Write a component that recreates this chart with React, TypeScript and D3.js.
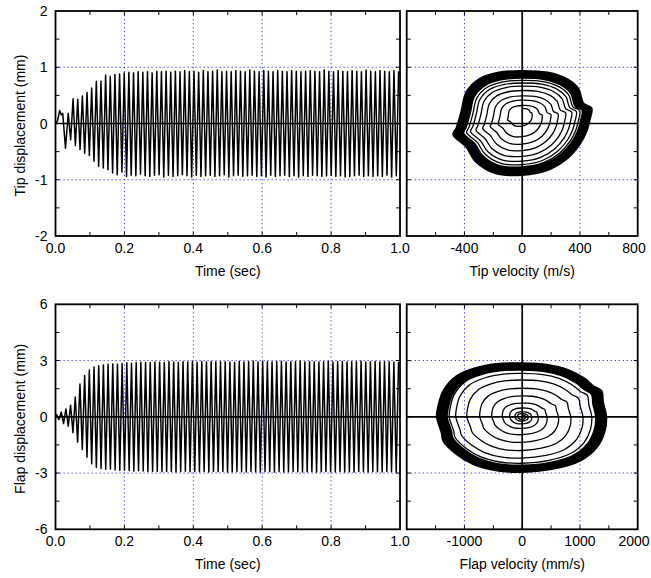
import React from 'react';
import * as d3 from 'd3';

// ---------- data ----------
// Tip displacement time history: irregular start, then alternating half-cycle peaks
const tipStartT = [0, 0.006, 0.012, 0.017, 0.021, 0.029, 0.037, 0.044];
const tipStartV = [0, 0.05, 0.23, 0.15, 0.18, -0.44, 0.18, -0.29];
const tipPeakStart = 0.051;
const tipHalfPeriod = 0.00675;
const tipPeaks = [
  0.44, -0.39, 0.43, -0.46, 0.49, -0.53, 0.55, -0.57, 0.63, -0.67,
  0.75, -0.76, 0.75, -0.79, 0.86, -0.82, 0.84, -0.88, 0.87, -0.91,
  0.88, -0.86, 0.90, -0.94, 0.91, -0.92, 0.90, -0.93, 0.92, -0.90,
  0.91, -0.93, 0.92, -0.94, 0.90, -0.92, 0.93, -0.91, 0.92, -0.95,
  0.93, -0.92, 0.91, -0.94, 0.93, -0.93, 0.92, -0.91, 0.94, -0.93,
  0.92, -0.95, 0.93, -0.92, 0.91, -0.94, 0.94, -0.93, 0.92, -0.92,
  0.93, -0.94, 0.95, -0.93, 0.92, -0.91, 0.93, -0.95, 0.92, -0.93,
  0.94, -0.92, 0.93, -0.94, 0.92, -0.93, 0.95, -0.92, 0.93, -0.94,
  0.92, -0.93, 0.94, -0.95, 0.93, -0.92, 0.92, -0.94, 0.94, -0.93,
  0.93, -0.92, 0.92, -0.94, 0.94, -0.93, 0.93, -0.95, 0.92, -0.93,
  0.93, -0.94, 0.94, -0.92, 0.93, -0.93, 0.92, -0.94, 0.95, -0.93,
  0.93, -0.92, 0.92, -0.94, 0.94, -0.93, 0.93, -0.95, 0.92, -0.94,
  0.94, -0.93, 0.93, -0.92, 0.92, -0.94, 0.95, -0.93, 0.93, -0.94,
  0.92, -0.93, 0.94, -0.94, 0.93, -0.92, 0.92, -0.95, 0.94, -0.93,
  0.93,
];

// Flap displacement time history
const flapStartT = [0];
const flapStartV = [0];
const flapPeakStart = 0.003;
const flapHalfPeriod = 0.0068;
const flapPeaks = [
  0.12, -0.15, 0.25, -0.36, 0.42, -0.50, 0.62, -0.85, 1.05, -1.35,
  1.75, -1.75, 2.20, -2.15, 2.50, -2.50, 2.65, -2.70, 2.72, -2.76,
  2.76, -2.80, 2.80, -2.78, 2.82, -2.84, 2.80, -2.86, 2.84, -2.85,
  2.88, -2.87, 2.86, -2.90, 2.89, -2.88, 2.91, -2.89, 2.90, -2.92,
  2.89, -2.91, 2.92, -2.90, 2.91, -2.93, 2.90, -2.92, 2.93, -2.91,
  2.92, -2.94, 2.91, -2.92, 2.93, -2.90, 2.92, -2.93, 2.94, -2.92,
  2.91, -2.93, 2.95, -2.92, 2.92, -2.94, 2.93, -2.91, 2.92, -2.93,
  2.94, -2.92, 2.93, -2.95, 2.92, -2.93, 2.91, -2.92, 2.95, -2.93,
  2.92, -2.94, 2.93, -2.92, 2.96, -2.93, 2.92, -2.94, 2.93, -2.92,
  2.94, -2.93, 2.92, -2.95, 2.93, -2.92, 2.95, -2.94, 2.92, -2.93,
  2.93, -2.92, 2.94, -2.93, 2.97, -2.94, 2.92, -2.93, 2.94, -2.92,
  2.93, -2.95, 2.92, -2.93, 2.94, -2.92, 2.96, -2.93, 2.92, -2.94,
  2.93, -2.92, 2.95, -2.94, 2.92, -2.93, 2.94, -2.95, 2.93, -2.92,
  2.96, -2.93, 2.92, -2.94, 2.93, -2.92, 2.95, -2.93, 2.92, -2.94,
  2.93, -2.92, 2.94, -2.93, 2.92, -2.95, 2.93,
];

// Phase portrait (tip): outer limit-cycle outline (velocity m/s, displacement mm)
const tipLoopV = [0, 180, 319, 400, 434, 492, 480, 457, 411, 319, 180, 0, -189, -328, -397, -490, -467, -432, -397, -305, -166];
const tipLoopY = [0.96, 0.93, 0.81, 0.63, 0.37, 0.28, 0.07, -0.14, -0.37, -0.64, -0.85, -0.94, -0.91, -0.70, -0.43, -0.20, -0.08, 0.22, 0.57, 0.81, 0.93];
const tipLoopScale = [0.10, 0.25, 0.38, 0.48, 0.59, 0.68, 0.75, 0.80, 0.84, 0.85, 0.86, 0.87, 0.88, 0.89, 0.90, 0.91, 0.92, 0.93, 0.94, 0.95, 0.96, 0.97, 0.98];
const tipLoopCy = [0.17, 0.08, 0.05, 0.03, 0.02, 0.01, 0, 0, 0, 0, 0, 0, 0, 0, 0, 0, 0, 0, 0, 0, 0, 0, 0];

// Phase portrait (flap): outer outline (velocity mm/s, displacement mm)
const flapLoopV = [0, 451, 798, 1087, 1260, 1405, 1434, 1491, 1462, 1318, 1029, 566, 0, -474, -879, -1168, -1399, -1428, -1514, -1486, -1399, -1168, -821, -416];
const flapLoopY = [2.93, 2.84, 2.58, 2.13, 1.69, 1.42, 0.80, 0, -0.8, -1.69, -2.4, -2.84, -3.02, -2.93, -2.58, -2.04, -1.33, -0.89, 0, 0.62, 1.42, 2.22, 2.67, 2.9];
const flapLoopScale = [0.03, 0.06, 0.09, 0.16, 0.25, 0.38, 0.52, 0.67, 0.79, 0.85, 0.86, 0.87, 0.88, 0.89, 0.90, 0.91, 0.92, 0.93, 0.94, 0.95, 0.96, 0.97, 0.98];
const flapLoopCy = [0, 0, 0, 0, 0, 0, 0, 0, 0, 0, 0, 0, 0, 0, 0, 0, 0, 0, 0, 0, 0, 0, 0];

// Axes
const timeDomain = [0, 1];
const timeMajor = [0, 0.2, 0.4, 0.6, 0.8, 1.0];
const timeMinor = [0.1, 0.3, 0.5, 0.7, 0.9];
const timeLabels = ['0.0', '0.2', '0.4', '0.6', '0.8', '1.0'];

const tipYDomain = [-2, 2];
const tipYMajor = [-2, -1, 0, 1, 2];
const tipYMinor = [-1.5, -0.5, 0.5, 1.5];
const tipYLabels = ['-2', '-1', '0', '1', '2'];

const flapYDomain = [-6, 6];
const flapYMajor = [-6, -3, 0, 3, 6];
const flapYMinor = [-4.5, -1.5, 1.5, 4.5];
const flapYLabels = ['-6', '-3', '0', '3', '6'];

const tipVDomain = [-800, 800];
const tipVMajor = [-800, -400, 0, 400, 800];
const tipVMinor = [-600, -200, 200, 600];
const tipVLabels = ['', '-400', '0', '400', '800'];

const flapVDomain = [-2000, 2000];
const flapVMajor = [-2000, -1000, 0, 1000, 2000];
const flapVMinor = [-1500, -500, 500, 1500];
const flapVLabels = ['', '-1000', '0', '1000', '2000'];

// ---------- helpers ----------
const FONT = "'Liberation Sans', Arial, Helvetica, sans-serif";

function timeSeries(startT: number[], startV: number[], t0: number, hp: number, peaks: number[]) {
  const pts: [number, number][] = startT.map((t, i) => [t, startV[i]]);
  peaks.forEach((v, k) => pts.push([t0 + k * hp, v]));
  return pts;
}

function spiral(vs: number[], ys: number[], scales: number[], cys: number[]) {
  const pts: [number, number][] = [];
  const n = vs.length;
  for (let k = 0; k < scales.length - 1; k++) {
    for (let i = 0; i < n; i++) {
      const f = i / n;
      const s = scales[k] + (scales[k + 1] - scales[k]) * f;
      const cy = cys[k] + (cys[k + 1] - cys[k]) * f;
      pts.push([vs[i] * s, ys[i] * s + cy]);
    }
  }
  const sl = scales[scales.length - 1];
  const cl = cys[cys.length - 1];
  for (let i = 0; i <= n; i++) {
    pts.push([vs[i % n] * sl, ys[i % n] * sl + cl]);
  }
  return pts;
}

type PanelProps = {
  id: string;
  x0: number; x1: number; y0: number; y1: number;
  xDomain: number[]; yDomain: number[];
  xMajor: number[]; xMinor: number[]; xLabels: string[];
  yMajor: number[]; yMinor: number[]; yLabels?: string[];
  xTitle: string; yTitle?: string;
  zeroV: boolean;
  data: [number, number][];
  curve: any;
  lineWidth: number;
};

function Panel(p: PanelProps) {
  const xs = d3.scaleLinear().domain(p.xDomain).range([p.x0, p.x1]);
  const ys = d3.scaleLinear().domain(p.yDomain).range([p.y1, p.y0]);
  const line = d3.line<[number, number]>().x(d => xs(d[0])).y(d => ys(d[1])).curve(p.curve);
  const gridColor = '#2a2aff';
  const tickLen = 4;
  const isEdgeX = (v: number) => v === p.xDomain[0] || v === p.xDomain[1];
  const isEdgeY = (v: number) => v === p.yDomain[0] || v === p.yDomain[1];
  return (
    <g>
      <defs>
        <clipPath id={p.id}>
          <rect x={p.x0} y={p.y0} width={p.x1 - p.x0} height={p.y1 - p.y0} />
        </clipPath>
      </defs>
      {/* grid */}
      {p.xMajor.filter(v => !isEdgeX(v) && v !== 0).map(v => (
        <line key={'gx' + v} x1={xs(v)} x2={xs(v)} y1={p.y0} y2={p.y1} stroke={gridColor} strokeWidth={1} strokeDasharray="1.2 2.8" />
      ))}
      {p.yMajor.filter(v => !isEdgeY(v) && v !== 0).map(v => (
        <line key={'gy' + v} x1={p.x0} x2={p.x1} y1={ys(v)} y2={ys(v)} stroke={gridColor} strokeWidth={1} strokeDasharray="1.2 2.8" />
      ))}
      {/* data */}
      <g clipPath={`url(#${p.id})`}>
        <path d={line(p.data) || ''} fill="none" stroke="#000" strokeWidth={p.lineWidth} strokeLinejoin="round" />
      </g>
      {/* zero lines */}
      <line x1={p.x0} x2={p.x1} y1={ys(0)} y2={ys(0)} stroke="#000" strokeWidth={1.7} />
      {p.zeroV && <line x1={xs(0)} x2={xs(0)} y1={p.y0} y2={p.y1} stroke="#000" strokeWidth={1.7} />}
      {/* ticks */}
      {[...p.xMajor, ...p.xMinor].filter(v => !isEdgeX(v)).map(v => (
        <g key={'tx' + v}>
          <line x1={xs(v)} x2={xs(v)} y1={p.y1} y2={p.y1 - tickLen} stroke="#000" strokeWidth={1} />
          <line x1={xs(v)} x2={xs(v)} y1={p.y0} y2={p.y0 + tickLen} stroke="#000" strokeWidth={1} />
        </g>
      ))}
      {[...p.yMajor, ...p.yMinor].filter(v => !isEdgeY(v)).map(v => (
        <g key={'ty' + v}>
          <line x1={p.x0} x2={p.x0 + tickLen} y1={ys(v)} y2={ys(v)} stroke="#000" strokeWidth={1} />
          <line x1={p.x1} x2={p.x1 - tickLen} y1={ys(v)} y2={ys(v)} stroke="#000" strokeWidth={1} />
        </g>
      ))}
      {/* frame */}
      <rect x={p.x0} y={p.y0} width={p.x1 - p.x0} height={p.y1 - p.y0} fill="none" stroke="#000" strokeWidth={1.8} />
      {/* labels */}
      {p.xMajor.map((v, i) => p.xLabels[i] ? (
        <text key={'lx' + v} x={Math.min(xs(v), 634)} y={p.y1 + 17} textAnchor="middle" fontSize={14} fontFamily={FONT} fill="#000">{p.xLabels[i]}</text>
      ) : null)}
      {p.yLabels && p.yMajor.map((v, i) => (
        <text key={'ly' + v} x={p.x0 - 8} y={ys(v)} dy="0.36em" textAnchor="end" fontSize={14} fontFamily={FONT} fill="#000">{p.yLabels![i]}</text>
      ))}
      <text x={(p.x0 + p.x1) / 2} y={p.y1 + 40} textAnchor="middle" fontSize={14} fontFamily={FONT} fill="#000">{p.xTitle}</text>
      {p.yTitle && (
        <text transform={`translate(25,${(p.y0 + p.y1) / 2 + 2}) rotate(-90)`} textAnchor="middle" fontSize={14} fontFamily={FONT} fill="#000">{p.yTitle}</text>
      )}
    </g>
  );
}

export default function App() {
  const L0 = 55.5, L1 = 400, R0 = 406.7, R1 = 637.7;
  const T0 = 11, T1 = 236, B0 = 304.3, B1 = 529.3;
  const tipTS = timeSeries(tipStartT, tipStartV, tipPeakStart, tipHalfPeriod, tipPeaks);
  const flapTS = timeSeries(flapStartT, flapStartV, flapPeakStart, flapHalfPeriod, flapPeaks);
  const tipPh = spiral(tipLoopV, tipLoopY, tipLoopScale, tipLoopCy);
  const flapPh = spiral(flapLoopV, flapLoopY, flapLoopScale, flapLoopCy);
  return (
    <svg width={651} height={578} style={{ position: 'absolute', left: 0, top: 0, background: '#fff' }}>
      <rect x={0} y={0} width={651} height={578} fill="#fff" />
      <Panel id="c1" x0={L0} x1={L1} y0={T0} y1={T1} xDomain={timeDomain} yDomain={tipYDomain}
        xMajor={timeMajor} xMinor={timeMinor} xLabels={timeLabels}
        yMajor={tipYMajor} yMinor={tipYMinor} yLabels={tipYLabels}
        xTitle="Time (sec)" yTitle="Tip displacement (mm)" zeroV={false} data={tipTS} curve={d3.curveLinear} lineWidth={1.5} />
      <Panel id="c2" x0={R0} x1={R1} y0={T0} y1={T1} xDomain={tipVDomain} yDomain={tipYDomain}
        xMajor={tipVMajor} xMinor={tipVMinor} xLabels={tipVLabels}
        yMajor={tipYMajor} yMinor={tipYMinor}
        xTitle="Tip velocity (m/s)" zeroV={true} data={tipPh} curve={d3.curveCatmullRom.alpha(0.5)} lineWidth={1.3} />
      <Panel id="c3" x0={L0} x1={L1} y0={B0} y1={B1} xDomain={timeDomain} yDomain={flapYDomain}
        xMajor={timeMajor} xMinor={timeMinor} xLabels={timeLabels}
        yMajor={flapYMajor} yMinor={flapYMinor} yLabels={flapYLabels}
        xTitle="Time (sec)" yTitle="Flap displacement (mm)" zeroV={false} data={flapTS} curve={d3.curveLinear} lineWidth={1.5} />
      <Panel id="c4" x0={R0} x1={R1} y0={B0} y1={B1} xDomain={flapVDomain} yDomain={flapYDomain}
        xMajor={flapVMajor} xMinor={flapVMinor} xLabels={flapVLabels}
        yMajor={flapYMajor} yMinor={flapYMinor}
        xTitle="Flap velocity (mm/s)" zeroV={true} data={flapPh} curve={d3.curveCatmullRom.alpha(0.5)} lineWidth={1.3} />
    </svg>
  );
}
